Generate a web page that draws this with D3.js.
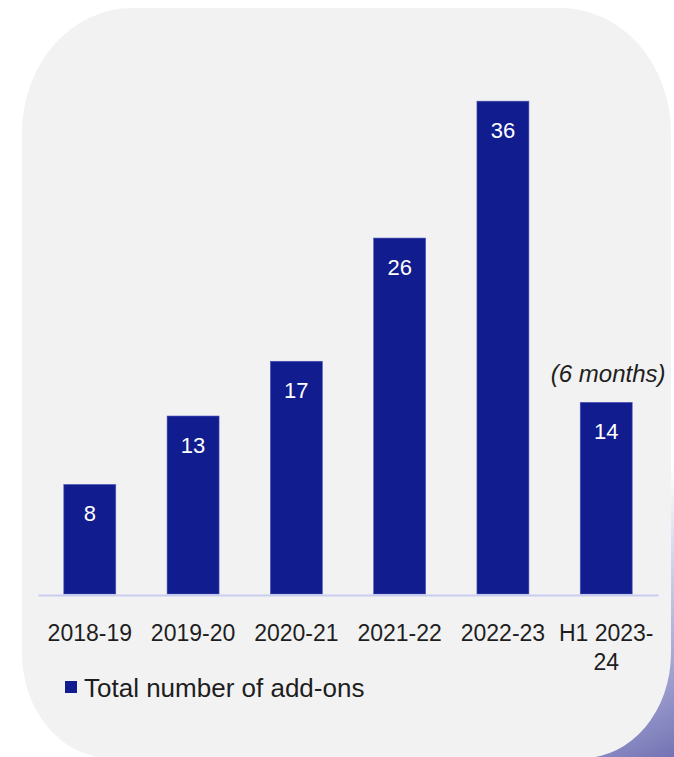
<!DOCTYPE html>
<html><head><meta charset="utf-8">
<script src="https://cdn.jsdelivr.net/npm/d3@7"></script>
<style>html,body{margin:0;padding:0;background:#fff;overflow:hidden;}svg{display:block;}</style>
</head><body>
<script>
const categories = ["2018-19","2019-20","2020-21","2021-22","2022-23","H1 2023-24"];
const tickLines = [["2018-19"],["2019-20"],["2020-21"],["2021-22"],["2022-23"],["H1 2023-","24"]];
const values = [8,13,17,26,36,14];
const seriesName = "Total number of add-ons";
const annotation = "(6 months)";

const W = 674, H = 757;
const svg = d3.select("body").append("svg").attr("width", W).attr("height", H);
const defs = svg.append("defs");
const grad = defs.append("linearGradient").attr("id","sh").attr("gradientUnits","userSpaceOnUse")
  .attr("x1",560).attr("y1",520).attr("x2",674).attr("y2",757);
grad.append("stop").attr("offset","0").attr("stop-color","#ffffff");
grad.append("stop").attr("offset","0.4").attr("stop-color","#c9c9e6");
grad.append("stop").attr("offset","0.75").attr("stop-color","#9a9acd");
grad.append("stop").attr("offset","1").attr("stop-color","#7373b4");

function cardPath(x0,y0,x1,y1,rx,ry,brx,bry){
  return `M${x0+rx},${y0} L${x1-rx},${y0} A${rx},${ry} 0 0 1 ${x1},${y0+ry} L${x1},${y1-bry} A${brx},${bry} 0 0 1 ${x1-brx},${y1} L${x0+brx},${y1} A${brx},${bry} 0 0 1 ${x0},${y1-bry} L${x0},${y0+ry} A${rx},${ry} 0 0 1 ${x0+rx},${y0} Z`;
}
svg.append("rect").attr("x",470).attr("y",420).attr("width",204).attr("height",337).attr("fill","url(#sh)");
svg.append("path").attr("d", cardPath(22,8,671,758,110,125,88,105)).attr("fill","#f2f2f2");

const x = d3.scaleBand().domain(categories).range([38,658]).paddingInner(0.497).paddingOuter(0.25);
const y = d3.scaleLinear().domain([0,40]).range([594,46.4]);

const font = "'Liberation Sans', Arial, sans-serif";

svg.append("g").selectAll("rect").data(values).join("rect")
  .attr("x",(d,i)=>x(categories[i])).attr("y",d=>y(d))
  .attr("width",x.bandwidth()).attr("height",d=>y(0)-y(d))
  .attr("fill","#111c8e").attr("stroke","#4a55b8").attr("stroke-width",0.6);

svg.append("g").selectAll("text").data(values).join("text")
  .attr("x",(d,i)=>x(categories[i])+x.bandwidth()/2).attr("y",d=>y(d)+37)
  .attr("text-anchor","middle").attr("fill","#fff")
  .style("font-family",font).style("font-size","22px").text(d=>d);

// axis
const axis = d3.axisBottom(x).tickSize(0).tickFormat("");
const ax = svg.append("g").attr("transform",`translate(0,${y(0)+1})`).call(axis);
ax.select(".domain").attr("stroke","#c9cdf2").attr("stroke-width",2);
ax.selectAll(".tick").each(function(d,i){
  const t = d3.select(this).append("text").attr("text-anchor","middle").attr("fill","#1e1e1e")
    .style("font-family",font).style("font-size","23px");
  tickLines[i].forEach((ln,j)=>t.append("tspan").attr("x",0).attr("y",46+j*29).text(ln));
});

// annotation
const last = categories.length-1;
svg.append("text").attr("x",x(categories[last])+x.bandwidth()/2+2).attr("y",y(values[last])-20)
  .attr("text-anchor","middle").attr("fill","#1e1e1e")
  .style("font-family",font).style("font-size","24px").style("font-style","italic").text(annotation);

// legend
const lg = svg.append("g").attr("transform","translate(65,681)");
lg.append("rect").attr("width",12).attr("height",12).attr("fill","#111c8e");
lg.append("text").attr("x",19).attr("y",16).attr("fill","#1e1e1e")
  .style("font-family",font).style("font-size","26px").text(seriesName);
</script>
</body></html>
